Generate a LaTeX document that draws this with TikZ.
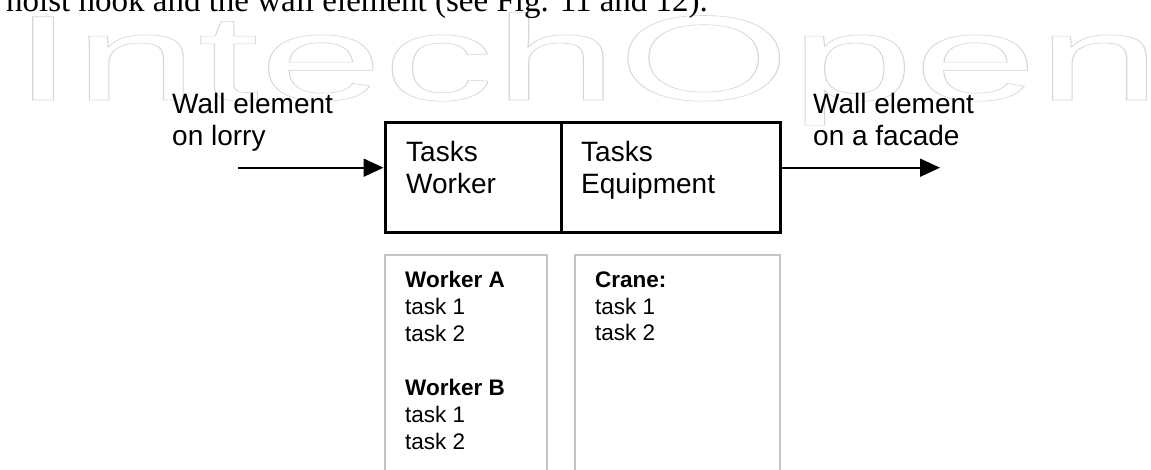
\documentclass[tikz,border=0pt]{standalone}
\usepackage{fontspec}
\usepackage{graphicx}
\setmainfont{Liberation Sans}
\newfontfamily\bookserif{Liberation Serif}
\usetikzlibrary{arrows.meta}
\begin{document}
\begin{tikzpicture}[x=1pt,y=-1pt,
  lbl/.style={anchor=base west, inner sep=0pt, align=left, font=\fontsize{28}{31.6}\selectfont},
  tasklbl/.style={anchor=base west, inner sep=0pt, align=left, font=\fontsize{22.5}{27}\selectfont},
  mainbox/.style={draw=black, line width=3pt, fill=white, inner sep=0pt},
  listbox/.style={draw=black!23, line width=2.5pt, inner sep=0pt},
  flow/.style={line width=2pt, -{Triangle[length=20pt,width=18pt]}}
]
\useasboundingbox (0,0) rectangle (1151,470);
\clip (0,0) rectangle (1151,470);
% watermark
\node[anchor=base west, inner sep=0pt, text=black!16] (wm) at (12,100)
  {\scalebox{1.836}[1]{\fontsize{121}{121}\selectfont\special{pdf:literal direct 1 Tr 0.6 w}IntechOpen\special{pdf:literal direct 0 Tr}}};
% cut caption line
\node[anchor=base west, inner sep=0pt, font=\bookserif\fontsize{33}{33}\selectfont] (cap) at (6,12)
  {hoist hook and the wall element (see Fig. 11 and 12).};
% main boxes
\node[mainbox, minimum width=176pt, minimum height=110pt] (tw) at (473,178) {};
\node[mainbox, minimum width=219pt, minimum height=110pt] (te) at (670.5,178) {};
% base anchor of a multi-line node = baseline of its last line
\node[lbl] (twt) at (406,193.3) {Tasks\\Worker};
\node[lbl] (tet) at (581,193.3) {Tasks\\Equipment};
% flow
\coordinate (src) at (238,167.7);
\coordinate (dst) at (940,167.7);
\draw[flow] (src) -- (src -| tw.west);
\draw[flow] (dst -| te.east) -- (dst);
\node[lbl] (inl) at (172,145.6) {Wall element\\on lorry};
\node[lbl] (outl) at (813,145.6) {Wall element\\on a facade};
% lists
\node[listbox, minimum width=162pt, minimum height=235pt] (lw) at (466,372.5) {};
\node[listbox, minimum width=205pt, minimum height=235pt] (le) at (677.5,372.5) {};
\node[tasklbl] (lwt) at (405,449) {\textbf{Worker A}\\task 1\\task 2\\[27pt]\textbf{Worker B}\\task 1\\task 2};
\node[tasklbl] (let) at (595,341) {\textbf{Crane:}\\task 1\\task 2};
\end{tikzpicture}
\end{document}
